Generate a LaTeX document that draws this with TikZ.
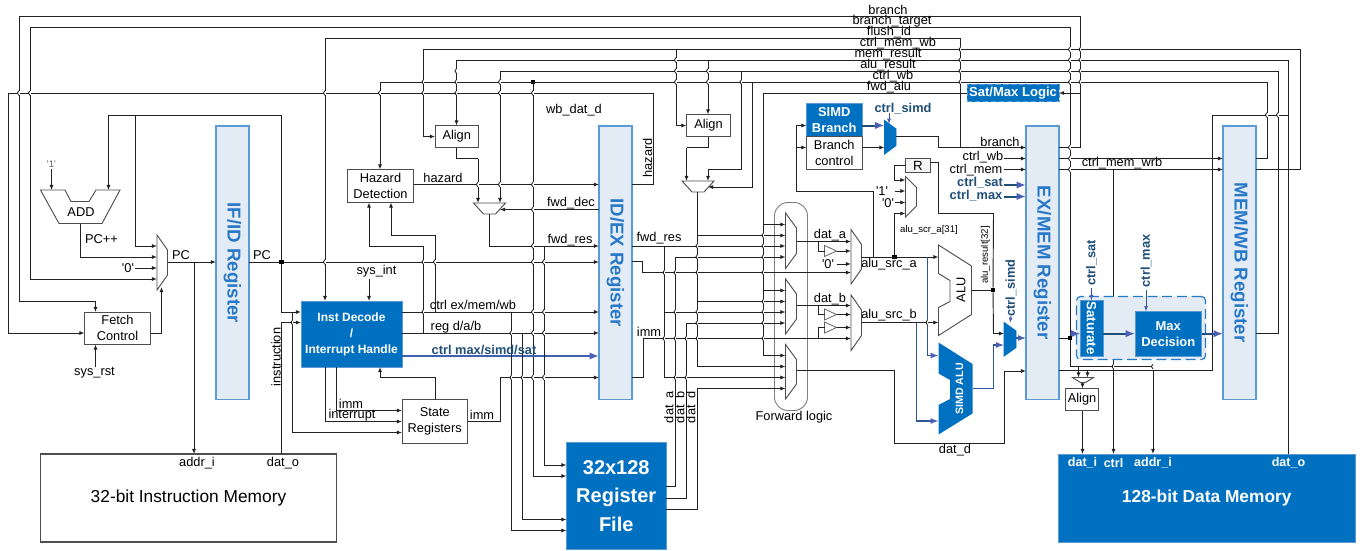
\documentclass[tikz,border=0pt]{standalone}
\usepackage{fontspec}
\setmainfont{Liberation Sans}
\usetikzlibrary{arrows.meta}
\definecolor{lin}{HTML}{222222}
\definecolor{cpu}{HTML}{0070C0}
\definecolor{regf}{HTML}{E3EBF5}
\definecolor{regb}{HTML}{5B9BD5}
\definecolor{regt}{HTML}{2878C8}
\definecolor{dkb}{HTML}{1F4E79}
\definecolor{arb}{HTML}{4A5FB5}
\definecolor{thb}{HTML}{2F5597}
\definecolor{rail}{HTML}{3F5FB0}
\newcounter{labn}
\newcommand{\blk}[7]{%
  \pgfmathsetmacro\bcx{(#2+#4)/2}\pgfmathsetmacro\bcy{(#3+#5)/2}%
  \pgfmathsetmacro\bbw{(#4-#2)*0.75}\pgfmathsetmacro\bbh{(#5-#3)*0.75}%
  \node[anchor=center,inner sep=0pt,outer sep=0pt,align=center,minimum width=\bbw pt,minimum height=\bbh pt,#6] (#1) at (\bcx,\bcy) {#7};}
\newcommand{\lab}[4][]{\stepcounter{labn}\node[lbl,#1] (L\thelabn) at (#2,#3) {#4};}
% mux narrowing to the right
\newcommand{\muxr}[7][]{\blk{#2}{#3}{#4}{#5}{#6}{}{}%
  \pgfmathsetmacro\bya{#4+#7}\pgfmathsetmacro\byb{#6-#7}%
  \draw[box,#1] (#3,#4) -- (#5,\bya) -- (#5,\byb) -- (#3,#6) -- cycle;}
% mux narrowing downwards
\newcommand{\muxd}[6]{\blk{#1}{#2}{#3}{#4}{#5}{}{}%
  \pgfmathsetmacro\bxa{#2+#6}\pgfmathsetmacro\bxb{#4-#6}%
  \draw[box] (#2,#3) -- (#4,#3) -- (\bxb,#5) -- (\bxa,#5) -- cycle;}
% small triangle buffer
\newcommand{\buf}[2]{\blk{#1}{824.5}{#2-5.5}{836.5}{#2+5.5}{}{}%
  \draw[line width=.6pt,draw=lin!70,fill=white] (824.5,#2-5.5) -- (836.5,#2) -- (824.5,#2+5.5) -- cycle;}
\newcommand{\hop}[2]{\fill[white] (#1-.7,#2-2.2) rectangle (#1+.7,#2+2.2);
  \draw[line width=.6pt,lin] (#1,#2-2.4) .. controls (#1-2.2,#2-1.4) and (#1-2.2,#2+1.4) .. (#1,#2+2.4);}
\newcommand{\q}{\textquotesingle}
\tikzset{
  lbl/.style={inner sep=0pt,outer sep=0pt,align=center,font=\fontsize{9.6}{11}\selectfont,text=black},
  small/.style={font=\fontsize{7.2}{9}\selectfont},
  bl/.style={font=\fontsize{9.6}{11}\selectfont\bfseries,text=dkb},
  wl/.style={font=\fontsize{9.4}{11}\selectfont\bfseries,text=white},
  box/.style={draw=lin!80,line width=.7pt,fill=white},
  plainbox/.style={draw=lin!80,line width=.7pt,fill=white,font=\fontsize{9.6}{12.2}\selectfont},
  cpublk/.style={draw=regb,line width=.6pt,fill=cpu,text=white,font=\fontsize{9.7}{12}\selectfont\bfseries},
  regblk/.style={draw=regb,line width=1pt,fill=regf},
  regtxt/.style={inner sep=0pt,rotate=-90,text=regt,font=\fontsize{14}{16}\selectfont\bfseries},
  wire/.style={draw=lin,line width=.7pt},
  arr/.style={wire,-{Latex[length=3.8pt,width=3pt]}},
  sq/.style={fill=black,draw=none,inner sep=0pt,minimum size=3.6pt,outer sep=0pt},
  tb/.style={draw=dkb,line width=1.5pt,-{Latex[length=7pt,width=5.5pt,color=arb]}},
  thinb/.style={draw=thb,line width=.8pt,-{Latex[length=6pt,width=4.5pt,color=arb]}},
  railb/.style={draw=rail,line width=1.4pt,-{Latex[length=7pt,width=5.5pt,color=arb]}},
}
\begin{document}
\begin{tikzpicture}[x=0.75pt,y=-0.75pt]
\useasboundingbox (0,0) rectangle (1360,550);
\fill[white] (0,0) rectangle (1360,550);
% ===== blocks =====
\blk{ifid}{216}{126}{249}{399.5}{regblk}{}
\blk{idex}{599}{126}{632}{399.5}{regblk}{}
\blk{exmem}{1026}{126}{1059}{399.5}{regblk}{}
\blk{memwb}{1223}{126}{1256}{399.5}{regblk}{}
\blk{fetch}{84.5}{312}{150.5}{344.5}{plainbox}{Fetch\\Control}
\blk{hazard}{347.5}{169.5}{413.5}{202.5}{plainbox}{Hazard\\Detection}
\blk{aligna}{435}{125.5}{478.5}{147.5}{plainbox}{Align}
\blk{alignb}{686.5}{114.5}{730.5}{136.5}{plainbox}{Align}
\blk{alignc}{1065.5}{388.5}{1098.5}{410.5}{plainbox}{Align}
\blk{state}{402}{399.5}{467.5}{443.5}{plainbox}{State\\Registers}
\blk{decode}{301}{301}{402}{367}{cpublk,font=\fontsize{9}{12}\selectfont\bfseries}{Inst Decode\\/\\Interrupt Handle}
\blk{imem}{40.5}{454}{336.5}{542}{draw=lin!80,line width=.8pt,fill=white,font=\fontsize{13}{15}\selectfont}{32-bit Instruction Memory}
\blk{dmem}{1058.5}{454}{1355}{542.5}{cpublk,font=\fontsize{13}{15}\selectfont\bfseries}{128-bit Data Memory}
\blk{regfile}{566.5}{442.5}{666}{549.5}{cpublk,font=\fontsize{15}{21.5}\selectfont\bfseries}{32x128\\Register\\File}
\blk{simdb}{806.5}{103.5}{862}{136.5}{cpublk}{SIMD\\Branch}
\blk{brc}{806.5}{136.5}{862}{169.5}{plainbox}{Branch\\control}
\blk{rreg}{905.5}{158.5}{930.5}{172.5}{draw=lin!80,line width=.7pt,fill=black!4}{R}
\blk{satmax}{967}{84}{1059}{101.5}{cpublk,dashed,dash pattern=on 4pt off 2pt,font=\fontsize{9.8}{12}\selectfont\bfseries}{Sat/Max Logic}
% ===== muxes =====
\muxr{pcmux}{157}{235}{167.5}{290}{15}
\muxr{fwda}{785.5}{213}{796.5}{268.5}{15}
\muxr{fwdb}{785.5}{279}{796.5}{334}{15}
\muxr{fwdc}{785.5}{344.5}{796.5}{399}{15}
\muxr{srca}{851}{229.5}{861.5}{284}{15}
\muxr{srcb}{851}{295}{861.5}{350.5}{15}
\muxr{rmux}{905.5}{176.5}{916.5}{217}{11}
\muxr[fill=cpu,draw=cpu]{brmux}{884.5}{120.5}{896}{154}{8.5}
\muxr[fill=cpu,draw=cpu]{simdm}{1004}{322.5}{1016}{356}{8.5}
\muxd{muxa}{473.5}{203}{505.5}{214}{10}
\muxd{muxb}{682}{181}{714}{192}{10}
\muxd{muxc}{1072.5}{377.5}{1093.5}{382.5}{8}
\coordinate (muxar) at (500,209.5);
\coordinate (muxbr) at (708,187);
% ADD, ALU and SIMD ALU outlines
\blk{addb}{40.5}{190}{120}{223.5}{}{}
\draw[box] (40.5,190) -- (65,190) -- (71,201.5) -- (89,201.5) -- (96,190) -- (120,190) -- (102,223.5) -- (59,223.5) -- cycle;
\blk{alub}{938.5}{245}{971.5}{335.5}{}{}
\draw[box] (938.5,245) -- (971.5,266) -- (971.5,314.5) -- (938.5,335.5) -- (938.5,307.5) -- (950,301.5) -- (950,280.5) -- (938.5,273.5) -- cycle;
\blk{simdalu}{938.5}{342.5}{972.5}{434.5}{}{}
\fill[cpu] (938.5,342.5) -- (972.5,364) -- (972.5,413.5) -- (938.5,434.5) -- (938.5,405) -- (950,399) -- (950,380) -- (938.5,373.5) -- cycle;
% buffers
\buf{bufa}{251}
\buf{bufb}{314.5}
\buf{bufc}{327.5}
% ===== forward logic frame =====
\blk{fwdframe}{774.5}{202.5}{807.5}{410.5}{draw=black!50,line width=.7pt,rounded corners=10pt}{}
% ===== dots =====
\node[sq] (dpc) at (281.5,262) {};
\node[sq] (dwb) at (533,82) {};
\node[sq] (dalua) at (894.5,257) {};
\node[sq] (dalur) at (993,290) {};
\node[sq] (dsat) at (1070,338) {};
% ===== top buses =====
\draw[arr] (exmem.east |- 0,147.5) -- (1080.5,147.5) -- (1080.5,16.5) -- (19,16.5) -- (19,301) -- (95.5,301) -- (95.5,0 |- fetch.north);
\draw[arr] (1080.5,93) -- (satmax.east |- 0,93);
\draw[arr] (1153,366.5) -- (1070,366.5) -- (1070,27.5) -- (30,27.5) -- (30,279) -- (pcmux.west |- 0,279);
\draw[arr] (960.5,147.5) -- (960.5,38.5) -- (325,38.5) -- (325,0 |- decode.north);
\draw[arr] (memwb.east |- 0,169.5) -- (1300,169.5) -- (1300,49.5) -- (423.5,49.5) -- (423.5,136.5) -- (aligna.west |- 0,136.5);
\draw[arr] (676,49.5) -- (676,125.5) -- (alignb.west |- 0,125.5);
\draw[wire] (dmem.north -| 1288.5,0) -- (1288.5,60) -- (456.5,60);
\draw[arr] (456.5,60) -- (456.5,0 |- aligna.north);
\draw[arr] (708,60) -- (708,0 |- alignb.north);
\draw[wire] (1288.5,115) -- (1212.5,115) -- (1212.5,370.5) -- (exmem.east |- 0,370.5);
\draw[arr] (1153,370.5) -- (1153,0 |- dmem.north);
\draw[wire] (memwb.east |- 0,333.5) -- (1278,333.5) -- (1278,71) -- (500,71);
\draw[arr] (500,71) -- (500,0 |- muxa.north);
\draw[arr] (741.5,71) -- (741.5,169) -- (708,169) -- (708,0 |- muxb.north);
\draw[wire] (memwb.east |- 0,158.5) -- (1267,158.5) -- (1267,82) -- (380,82);
\draw[arr] (380,82) -- (380,0 |- hazard.north);
\draw[arr] (752,82) -- (752,187) -- (muxbr);
\draw[arr] (dwb) -- (533,476) -- (regfile.west |- 0,476);
\draw[wire] (idex.east |- 0,184.5) -- (653.5,184.5) -- (653.5,93) -- (8,93) -- (8,333) -- (7.9,333);
\draw[arr] (8,333) -- (fetch.west |- 0,333);
\draw[wire] (satmax.west |- 0,93) -- (763.5,93) -- (763.5,224.5);
\draw[arr] (763.5,224.5) -- (fwda.west |- 0,224.5);
\draw[wire] (763.5,224.5) -- (763.5,355.5);
\draw[arr] (763.5,290.5) -- (fwdb.west |- 0,290.5);
\draw[arr] (763.5,355.5) -- (fwdc.west |- 0,355.5);
% ===== PC path =====
\draw[arr] (51.5,169) -- (51.5,0 |- addb.north);
\draw[arr] (dpc) -- (281.5,115) -- (108.5,115) -- (108.5,0 |- addb.north);
\draw[arr] (135,115) -- (135,246) -- (pcmux.west |- 0,246);
\draw[arr] (80.5,0 |- addb.south) -- (80.5,257) -- (pcmux.west |- 0,257);
\draw[arr] (135,268) -- (pcmux.west |- 0,268);
\draw[arr] (fetch.east |- 0,333) -- (161.5,333) -- (161.5,287);
\draw[arr] (pcmux.east |- 0,262) -- (ifid.west |- 0,262);
\draw[arr] (194,262) -- (194,0 |- imem.north);
\draw[wire] (ifid.east |- 0,262) -- (dpc);
\draw[arr] (dpc) -- (idex.west |- 0,262);
\draw[arr] (dpc) -- (281.5,312) -- (decode.west |- 0,312);
\draw[arr] (292.5,312) -- (292.5,432.5) -- (state.west |- 0,432.5);
\draw[arr] (281.5,0 |- imem.north) -- (281.5,322.5) -- (decode.west |- 0,322.5);
\draw[arr] (95.5,367) -- (95.5,0 |- fetch.south);
% ===== decode =====
\draw[arr] (369,279) -- (369,0 |- decode.north);
\draw[arr] (336.5,0 |- decode.south) -- (336.5,410.5) -- (state.west |- 0,410.5);
\draw[arr] (325.5,0 |- decode.south) -- (325.5,421.5) -- (state.west |- 0,421.5);
\draw[arr] (435,0 |- state.north) -- (435,377) -- (380,377) -- (380,0 |- decode.south);
\draw[arr] (decode.east |- 0,312) -- (idex.west |- 0,312);
\draw[arr] (decode.east |- 0,333) -- (idex.west |- 0,333);
\draw[railb] (decode.east |- 0,356) -- (idex.west |- 0,356);
\draw[arr] (state.east |- 0,421.5) -- (500.5,421.5) -- (500.5,377.5) -- (idex.west |- 0,377.5);
\draw[arr] (435,312) -- (435,235.5) -- (391,235.5) -- (391,0 |- hazard.south);
\draw[arr] (423.5,333) -- (423.5,246.5) -- (369,246.5) -- (369,0 |- hazard.south);
\draw[arr] (hazard.east |- 0,184.5) -- (idex.west |- 0,184.5);
\draw[wire] (aligna.south -| 456.5,0) -- (456.5,158.5) -- (478,158.5);
\draw[arr] (478,158.5) -- (478,0 |- muxa.north);
\draw[arr] (idex.west |- 0,209.5) -- (muxar);
\draw[arr] (489.5,0 |- muxa.south) -- (489.5,246) -- (idex.west |- 0,246);
\draw[arr] (544,246) -- (544,465) -- (regfile.west |- 0,465);
\draw[arr] (511.5,312) -- (511.5,530.5) -- (regfile.west |- 0,530.5);
\draw[arr] (522.5,333) -- (522.5,519.5) -- (regfile.west |- 0,519.5);
% ===== execute inputs =====
\draw[wire] (708,0 |- alignb.south) -- (708,147.5) -- (686.5,147.5);
\draw[arr] (686.5,147.5) -- (686.5,0 |- muxb.north);
\draw[wire] (697.5,0 |- muxb.south) -- (697.5,366.5);
\draw[arr] (697.5,235.5) -- (fwda.west |- 0,235.5);
\draw[arr] (697.5,301.5) -- (fwdb.west |- 0,301.5);
\draw[arr] (697.5,366.5) -- (fwdc.west |- 0,366.5);
\draw[arr] (idex.east |- 0,246) -- (fwda.west |- 0,246);
\draw[wire] (664.5,246) -- (664.5,377.5);
\draw[arr] (664.5,312) -- (fwdb.west |- 0,312);
\draw[arr] (664.5,377.5) -- (fwdc.west |- 0,377.5);
\draw[arr] (regfile.east |- 0,486.5) -- (675.5,486.5) -- (675.5,257) -- (fwda.west |- 0,257);
\draw[arr] (regfile.east |- 0,498) -- (686.5,498) -- (686.5,323) -- (fwdb.west |- 0,323);
\draw[arr] (regfile.east |- 0,509) -- (697.5,509) -- (697.5,388.5) -- (fwdc.west |- 0,388.5);
\draw[arr] (idex.east |- 0,261.5) -- (642.5,261.5) -- (642.5,272.5) -- (srca.west |- 0,272.5);
\draw[arr] (idex.east |- 0,377.5) -- (643,377.5) -- (643,338.5) -- (srcb.west |- 0,338.5);
\draw[arr] (fwda.east |- 0,241.5) -- (srca.west |- 0,241.5);
\draw[wire] (818,241.5) -- (818,251) -- (bufa.west);
\draw[arr] (bufa.east) -- (srca.west |- 0,251);
\draw[arr] (fwdb.east |- 0,305.5) -- (srcb.west |- 0,305.5);
\draw[wire] (818,305.5) -- (818,314.5) -- (bufb.west);
\draw[arr] (bufb.east) -- (srcb.west |- 0,314.5);
\draw[wire] (818,338.5) -- (818,327.5) -- (bufc.west);
\draw[arr] (bufc.east) -- (srcb.west |- 0,327.5);
\draw[arr] (836.5,264) -- (srca.west |- 0,264);
\draw[arr] (srca.east |- 0,257) -- (alub.west |- 0,257);
\draw[arr] (srcb.east |- 0,322.5) -- (alub.west |- 0,322.5);
\draw[arr] (dalua) -- (894.5,213.5) -- (rmux.west |- 0,213.5);
\draw[arr] (rreg.west |- 0,165) -- (894,165) -- (894,180) -- (rmux.west |- 0,180);
\draw[arr] (894.5,191) -- (rmux.west |- 0,191);
\draw[arr] (894.5,202.5) -- (rmux.west |- 0,202.5);
\draw[wire] (rreg.east |- 0,162.5) -- (938.5,162.5) -- (938.5,213.5) -- (993.5,213.5) -- (dalur);
\draw[wire] (971.5,290) -- (dalur);
\draw[arr] (dalur) -- (993.5,333.5) -- (simdm.west |- 0,333.5);
\draw[wire] (873,257) -- (873,191) -- (796,191) -- (796,125.5);
\draw[arr] (796,125.5) -- (simdb.west |- 0,125.5);
\draw[arr] (796,147.5) -- (brc.west |- 0,147.5);
\draw[tb] (simdb.east |- 0,125.5) -- (brmux.west |- 0,125.5);
\draw[arr] (brc.east |- 0,147.5) -- (brmux.west |- 0,147.5);
\draw[arr] (brmux.east |- 0,136.5) -- (938.5,136.5) -- (938.5,147.5) -- (exmem.west |- 0,147.5);
\draw[draw=thb,line width=.7pt,-{Latex[length=4pt,width=3pt,color=arb]}] (889,113) -- (889,124);
\draw[arr] (1003.5,158.5) -- (exmem.west |- 0,158.5);
\draw[arr] (1003.5,169.5) -- (exmem.west |- 0,169.5);
\draw[tb] (1003.5,185) -- (exmem.west |- 0,185);
\draw[tb] (1003.5,196.5) -- (exmem.west |- 0,196.5);
% SIMD datapath
\draw[thinb] (927.5,257) -- (927.5,355.5) -- (simdalu.west |- 0,355.5);
\draw[thinb] (916.5,322.5) -- (916.5,421) -- (simdalu.west |- 0,421);
\draw[thinb] (simdalu.east |- 0,388.5) -- (993.5,388.5) -- (993.5,345) -- (simdm.west |- 0,345);
\draw[thinb] (simdm.east |- 0,338) -- (exmem.west |- 0,338);
\draw[draw=thb,line width=.7pt,-{Latex[length=4pt,width=3pt,color=arb]}] (1011,316) -- (1010,323);
\draw[wire] (fwdc.east |- 0,370.5) -- (894.5,370.5) -- (894.5,443.5) -- (1004.5,443.5) -- (1004.5,371);
\draw[arr] (1004.5,371) -- (exmem.west |- 0,371);
% ===== memory stage =====
\draw[arr] (exmem.east |- 0,158.5) -- (memwb.west |- 0,158.5);
\draw[arr] (exmem.east |- 0,169.5) -- (memwb.west |- 0,169.5);
\draw[arr] (1113.5,169.5) -- (1113.5,0 |- dmem.north);
\draw[arr] (1078.5,366.5) -- (1078.5,0 |- muxc.north);
\draw[arr] (1087.5,370.5) -- (1087.5,0 |- muxc.north);
\draw[arr] (1082.5,0 |- muxc.south) -- (1082.5,0 |- alignc.north);
\draw[arr] (1082.5,0 |- alignc.south) -- (1082.5,0 |- dmem.north);
\draw[wire] (exmem.east |- 0,338) -- (dsat);
% ===== Sat group =====
\blk{satgroup}{1076.5}{296.5}{1205.5}{359.5}{fill=regf,draw=regt,dashed,dash pattern=on 7.5pt off 3.5pt,line width=.9pt,rounded corners=3pt}{}
\blk{sat}{1080.5}{300.5}{1103}{356}{cpublk}{}
\blk{maxd}{1135}{311.5}{1201.5}{356.5}{cpublk}{Max\\Decision}
\draw[tb] (dsat) ++(0,-4.3) -- (sat.west |- 0,333.7);
\draw[tb] (sat.east |- 0,333.7) -- (maxd.west |- 0,333.7);
\draw[tb] (maxd.east |- 0,333.7) -- (memwb.west |- 0,333.7);
\draw[draw=thb,line width=.7pt,-{Latex[length=4pt,width=3pt,color=arb]}] (1091.5,288) -- (1091.5,0 |- sat.north);
\draw[draw=thb,line width=.7pt,-{Latex[length=4pt,width=3pt,color=arb]}] (1146,290) -- (1146,0 |- maxd.north);
% ===== line hops =====
\foreach \hx/\hy in {19/93,30/93,325/93,380/93,423.5/82,423.5/93,456.5/71,456.5/82,456.5/93,500/82,500/93,
  533/93,676/60,676/71,676/82,708/71,708/82,741.5/82,960.5/49.5,960.5/60,960.5/71,960.5/82,
  1070/49.5,1070/60,1070/71,1070/82,1070/147.5,1070/158.5,1070/169.5,1080.5/49.5,1080.5/60,1080.5/71,1080.5/82,
  1267/115,1278/115,325/262,423.5/262,435/262,478/184.5,500/184.5,533/184.5,533/209.5,533/246,533/262,544/262,
  423.5/312,511.5/333,533/312,533/333,533/377.5,544/312,544/333,544/377.5,511.5/377.5,522.5/377.5,
  292.5/322.5,664.5/272.5,664.5/338.5,675.5/272.5,675.5/312,675.5/338.5,675.5/377.5,686.5/338.5,686.5/377.5,
  697.5/246,697.5/257,697.5/272.5,697.5/312,697.5/323,697.5/338.5,
  763.5/235.5,763.5/246,763.5/257,763.5/272.5,763.5/301.5,763.5/312,763.5/323,763.5/338.5,
  927.5/322.5,1113.5/366.5,1153/366.5} {\hop{\hx}{\hy}}
% ===== texts =====
\node[regtxt] (tifid) at (ifid.center) {IF/ID Register};
\node[regtxt] (tidex) at (idex.center) {ID/EX Register};
\node[regtxt] (texmem) at (exmem.center) {EX/MEM Register};
\node[regtxt] (tmemwb) at (memwb.center) {MEM/WB Register};
\lab{81}{212}{ADD}
\lab[font=\fontsize{7.2}{9}\selectfont,text=black!60]{51.5}{164}{\q1\q}
\lab{101.5}{239.5}{PC++}
\lab{128}{268}{\q0\q}
\lab{181}{255}{PC}
\lab{262}{255}{PC}
\lab{94.5}{373}{sys\_rst}
\lab{376.5}{271}{sys\_int}
\lab[rotate=90]{276}{357}{instruction}
\lab{197}{463}{addr\_i}
\lab{283}{463}{dat\_o}
\lab{351}{404}{imm}
\lab{352}{415.5}{interrupt}
\lab{443}{178}{hazard}
\lab{482}{415}{imm}
\lab{473}{305}{ctrl ex/mem/wb}
\lab{456}{327}{reg d/a/b}
\lab[bl]{484}{349.5}{ctrl max/simd/sat}
\lab{574}{110}{wb\_dat\_d}
\lab[rotate=90]{647.5}{158}{hazard}
\lab{571}{203}{fwd\_dec}
\lab{570}{240}{fwd\_res}
\lab{659}{238}{fwd\_res}
\lab{649}{332}{imm}
\lab[rotate=90]{670}{407}{dat\_a}
\lab[rotate=90]{681}{407}{dat\_b}
\lab[rotate=90]{692}{407}{dat\_d}
\lab{794}{417}{Forward logic}
\lab{830}{235}{dat\_a}
\lab{830}{299}{dat\_b}
\lab{828}{264}{\q0\q}
\lab{889}{264}{alu\_src\_a}
\lab{889}{315}{alu\_src\_b}
\lab{882}{191}{\q1\q}
\lab{888}{203.5}{\q0\q}
\lab[small]{929}{230}{alu\_scr\_a[31]}
\lab[rotate=90,small]{985.5}{255}{alu\_result[32]}
\lab[rotate=90]{961}{290}{ALU}
\lab[rotate=90,font=\fontsize{8}{10}\selectfont\bfseries,text=white]{959.5}{389}{SIMD ALU}
\lab[bl]{903}{109}{ctrl\_simd}
\lab[bl,rotate=90]{1011}{288}{ctrl\_simd}
\lab[bl,rotate=90]{1091.5}{263}{ctrl\_sat}
\lab[bl,rotate=90]{1146}{261}{ctrl\_max}
\lab{1000}{142}{branch}
\lab{983}{157}{ctrl\_wb}
\lab{976}{170}{ctrl\_mem}
\lab[bl]{980}{183}{ctrl\_sat}
\lab[bl]{976}{196}{ctrl\_max}
\lab{1122}{163}{ctrl\_mem\_wrb}
\lab[wl]{1082.5}{463}{dat\_i}
\lab[wl]{1113.5}{463}{ctrl}
\lab[wl]{1153}{463}{addr\_i}
\lab[wl]{1288.5}{463}{dat\_o}
\lab{955}{450}{dat\_d}
\lab[rotate=-90,font=\fontsize{10}{12}\selectfont\bfseries,text=white]{1091.5}{328}{Saturate}
\lab{888}{10}{branch}
\lab{892}{21}{branch\_target}
\lab{889}{32}{flush\_id}
\lab{898}{43}{ctrl\_mem\_wb}
\lab{888}{54}{mem\_result}
\lab{888}{65}{alu\_result}
\lab{893}{76}{ctrl\_wb}
\lab{889}{87}{fwd\_alu}
\node[sq] (dsat2) at (dsat) {};
\end{tikzpicture}
\end{document}
